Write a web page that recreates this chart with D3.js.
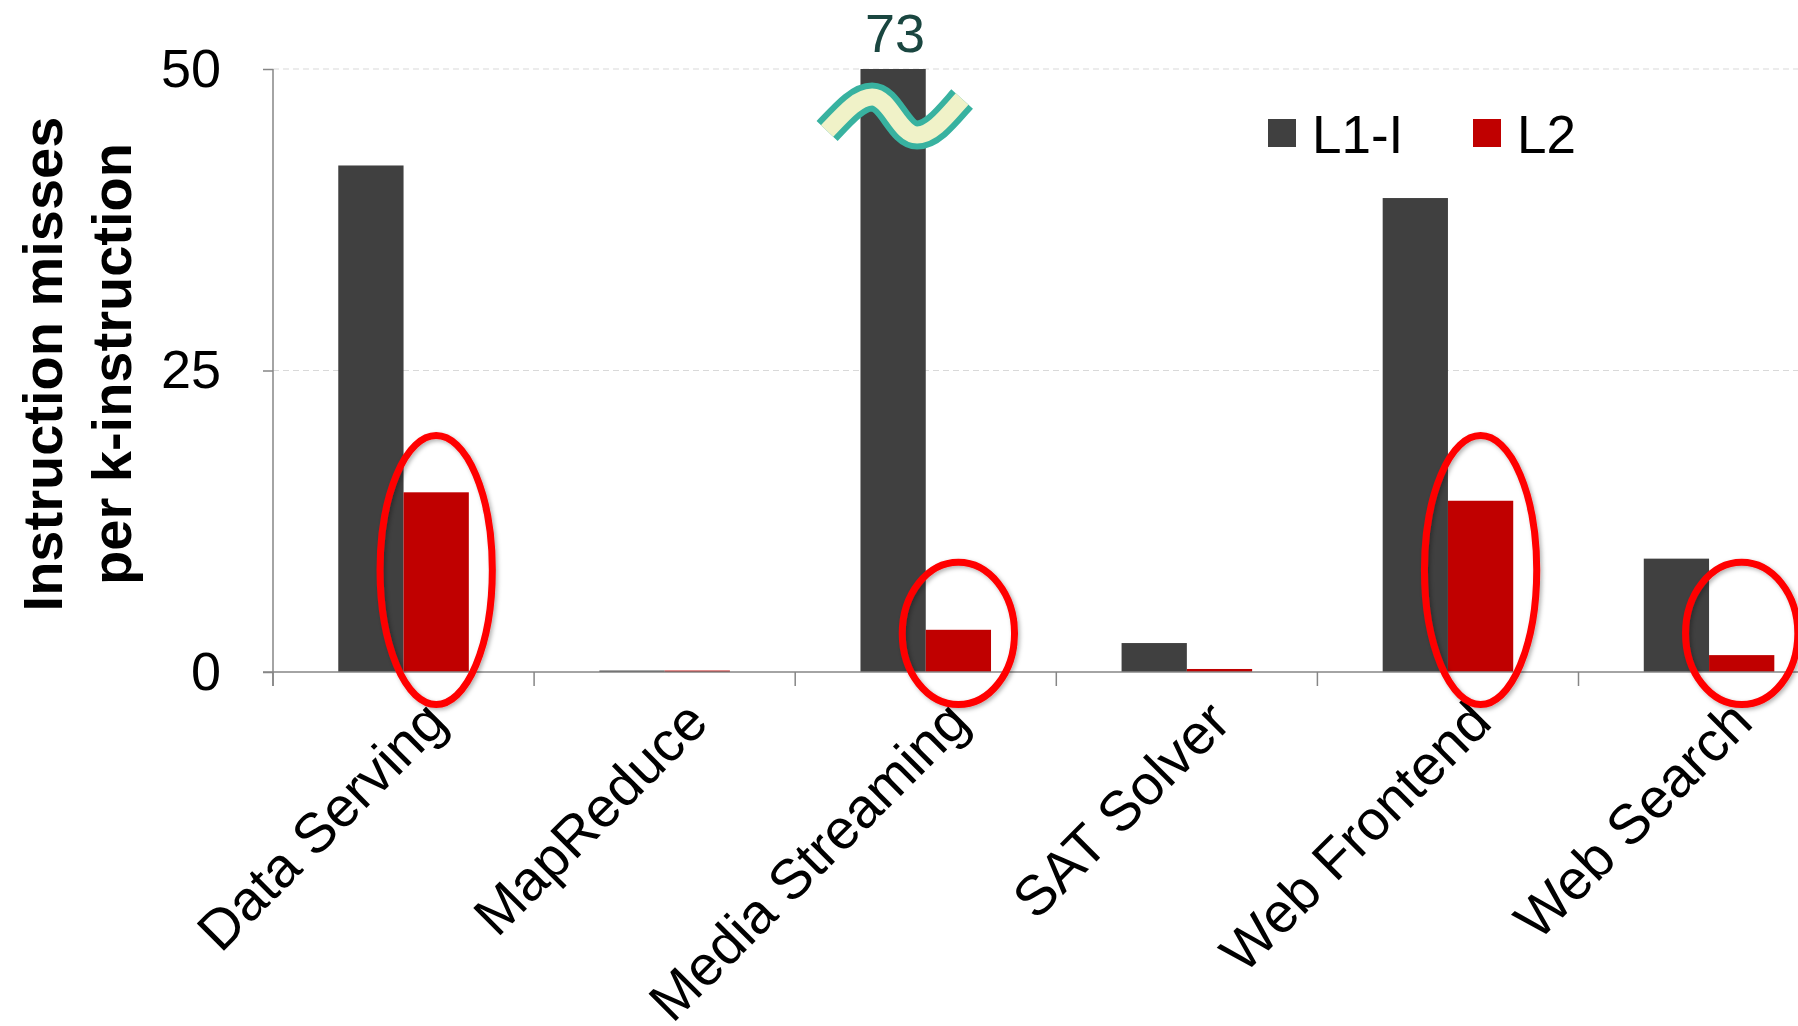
<!DOCTYPE html>
<html>
<head>
<meta charset="utf-8">
<script src="https://cdn.jsdelivr.net/npm/d3@7"></script>
<style>
  body { margin: 0; background: #fff; }
  svg { display: block; font-family: "Liberation Sans", Arial, sans-serif; }
  .tick text { fill: #000; }
</style>
</head>
<body>
<div id="wrapper"></div>
<script>
// 1. Data
const categories = ["Data Serving", "MapReduce", "Media Streaming", "SAT Solver", "Web Frontend", "Web Search"];
const seriesNames = ["L1-I", "L2"];
const l1iValues = [42.0, 0.12, 73, 2.4, 39.3, 9.4];
const l2Values = [14.9, 0.12, 3.5, 0.25, 14.2, 1.4];
const yTicks = [0, 25, 50];
const yMax = 50;
// highlighted L2 bars (ellipse extent in data units)
const circledCategories = ["Data Serving", "Media Streaming", "Web Frontend", "Web Search"];
const circledLow = [-2.7, -2.7, -2.7, -2.7];
const circledHigh = [19.6, 9.1, 19.6, 9.1];

const colors = { "L1-I": "#404040", "L2": "#c00000" };

function drawChart() {
  const dataset = categories.map((c, i) => ({
    category: c,
    values: [
      { key: "L1-I", value: l1iValues[i] },
      { key: "L2", value: l2Values[i] },
    ],
  }));

  // 2. Dimensions
  let dimensions = {
    width: 1798,
    height: 1026,
    margin: { top: 69, left: 273, bottom: 354 },
    bandWidth: 261.1,
  };
  dimensions.boundedHeight = dimensions.height - dimensions.margin.top - dimensions.margin.bottom;

  // 3. Canvas
  const wrapper = d3.select("#wrapper")
    .append("svg")
    .attr("width", dimensions.width)
    .attr("height", dimensions.height);

  const defs = wrapper.append("defs");
  const shadow = defs.append("filter").attr("id", "shadow")
    .attr("x", "-20%").attr("y", "-20%").attr("width", "140%").attr("height", "140%");
  shadow.append("feDropShadow")
    .attr("dx", 2).attr("dy", 2).attr("stdDeviation", 2)
    .attr("flood-color", "#000").attr("flood-opacity", 0.3);

  // 4. Scales
  const x0 = d3.scaleBand()
    .domain(categories)
    .range([dimensions.margin.left, dimensions.margin.left + categories.length * dimensions.bandWidth])
    .padding(0);
  const x1 = d3.scaleBand()
    .domain(seriesNames)
    .range([x0.bandwidth() * 0.25, x0.bandwidth() * 0.75])
    .padding(0);
  const yScale = d3.scaleLinear()
    .domain([0, yMax])
    .range([dimensions.margin.top + dimensions.boundedHeight, dimensions.margin.top]);
  const y0 = yScale(0);

  // gridlines
  wrapper.append("g")
    .selectAll("line")
    .data(yTicks.filter(d => d > 0))
    .join("line")
    .attr("x1", dimensions.margin.left)
    .attr("x2", dimensions.width)
    .attr("y1", d => yScale(d))
    .attr("y2", d => yScale(d))
    .attr("stroke", "#d9d9d9")
    .attr("stroke-width", 1.2)
    .attr("stroke-dasharray", "6,4");

  // 5. Bars
  const groups = wrapper.append("g")
    .selectAll("g")
    .data(dataset)
    .join("g")
    .attr("transform", d => `translate(${x0(d.category)},0)`);

  groups.selectAll("rect")
    .data(d => d.values)
    .join("rect")
    .attr("x", d => x1(d.key))
    .attr("width", x1.bandwidth())
    .attr("y", d => yScale(Math.min(d.value, yMax)))
    .attr("height", d => Math.max(1, y0 - yScale(Math.min(d.value, yMax))))
    .attr("fill", d => colors[d.key]);

  // 6. Axes
  const yAxis = wrapper.append("g")
    .attr("transform", `translate(${dimensions.margin.left},0)`)
    .call(d3.axisLeft(yScale).tickValues(yTicks).tickSize(10).tickSizeOuter(0).tickPadding(42));
  yAxis.select(".domain").remove();
  yAxis.selectAll(".tick line").attr("stroke", "#868686").attr("stroke-width", 1.5);
  yAxis.selectAll(".tick text")
    .style("font-size", "54px")
    .style("font-family", "'Liberation Sans', Arial, sans-serif");
  yAxis.append("line")
    .attr("y1", yScale(yMax))
    .attr("y2", y0 + 14)
    .attr("stroke", "#868686")
    .attr("stroke-width", 1.5);

  const xAxis = wrapper.append("g");
  xAxis.append("line")
    .attr("x1", dimensions.margin.left - 10)
    .attr("x2", x0.range()[1])
    .attr("y1", y0).attr("y2", y0)
    .attr("stroke", "#868686")
    .attr("stroke-width", 1.5);
  xAxis.selectAll(".xtick")
    .data(categories.map(c => x0(c)).concat([x0.range()[1]]))
    .join("line")
    .attr("class", "xtick")
    .attr("x1", d => d).attr("x2", d => d)
    .attr("y1", y0).attr("y2", y0 + 14)
    .attr("stroke", "#868686")
    .attr("stroke-width", 1.5);
  xAxis.selectAll(".xlabel")
    .data(categories)
    .join("text")
    .attr("class", "xlabel")
    .attr("transform", d => `translate(${x0(d) + x0.bandwidth() / 2 + 46},${y0 + 53}) rotate(-45)`)
    .attr("text-anchor", "end")
    .style("font-size", "56px")
    .attr("fill", "#000")
    .text(d => d);

  // y axis title
  const yTitle = wrapper.append("text")
    .attr("transform", `translate(62,364) rotate(-90)`)
    .attr("text-anchor", "middle")
    .style("font-size", "56px")
    .style("font-weight", "bold")
    .attr("fill", "#000");
  yTitle.append("tspan").attr("x", 0).attr("y", 0).text("Instruction misses");
  yTitle.append("tspan").attr("x", 0).attr("y", 69).text("per k-instruction");

  // broken bar: value label and break symbol
  const overflow = dataset.filter(d => d.values[0].value > yMax);
  overflow.forEach(d => {
    const cx = x0(d.category) + x1("L1-I") + x1.bandwidth() / 2;
    wrapper.append("text")
      .attr("x", cx + 2)
      .attr("y", yScale(yMax) - 17)
      .attr("text-anchor", "middle")
      .style("font-size", "54px")
      .attr("fill", "#1a4640")
      .text(d.values[0].value);
    const wave = "M-67,16 C-50,-2 -36,-18 -22,-18 C-4,-18 5,20 23,20 C38,20 52,2 68,-16";
    const breakG = wrapper.append("g")
      .attr("transform", `translate(${cx + 1},${yScale(yMax) + 46})`);
    breakG.append("path").attr("d", wave)
      .attr("fill", "none").attr("stroke", "#38b2a0").attr("stroke-width", 29);
    breakG.append("path").attr("d", wave)
      .attr("fill", "none").attr("stroke", "#f0f2c8").attr("stroke-width", 17);
  });

  // highlight ellipses
  wrapper.append("g")
    .selectAll("ellipse")
    .data(circledCategories)
    .join("ellipse")
    .attr("cx", d => x0(d) + x1("L2") + x1.bandwidth() / 2)
    .attr("cy", (d, i) => (yScale(circledLow[i]) + yScale(circledHigh[i])) / 2)
    .attr("rx", x1.bandwidth() * 0.86)
    .attr("ry", (d, i) => (yScale(circledLow[i]) - yScale(circledHigh[i])) / 2)
    .attr("fill", "none")
    .attr("stroke", "#ff0000")
    .attr("stroke-width", 7)
    .attr("filter", "url(#shadow)");

  // legend
  const legend = wrapper.append("g")
    .attr("transform", "translate(1268,119)");
  const legendItems = legend.selectAll("g")
    .data(seriesNames)
    .join("g")
    .attr("transform", (d, i) => `translate(${i * 205},0)`);
  legendItems.append("rect")
    .attr("width", 28).attr("height", 28)
    .attr("fill", d => colors[d]);
  legendItems.append("text")
    .attr("x", 44)
    .attr("y", 34)
    .style("font-size", "53px")
    .attr("fill", "#000")
    .text(d => d);
}

drawChart();
</script>
</body>
</html>
